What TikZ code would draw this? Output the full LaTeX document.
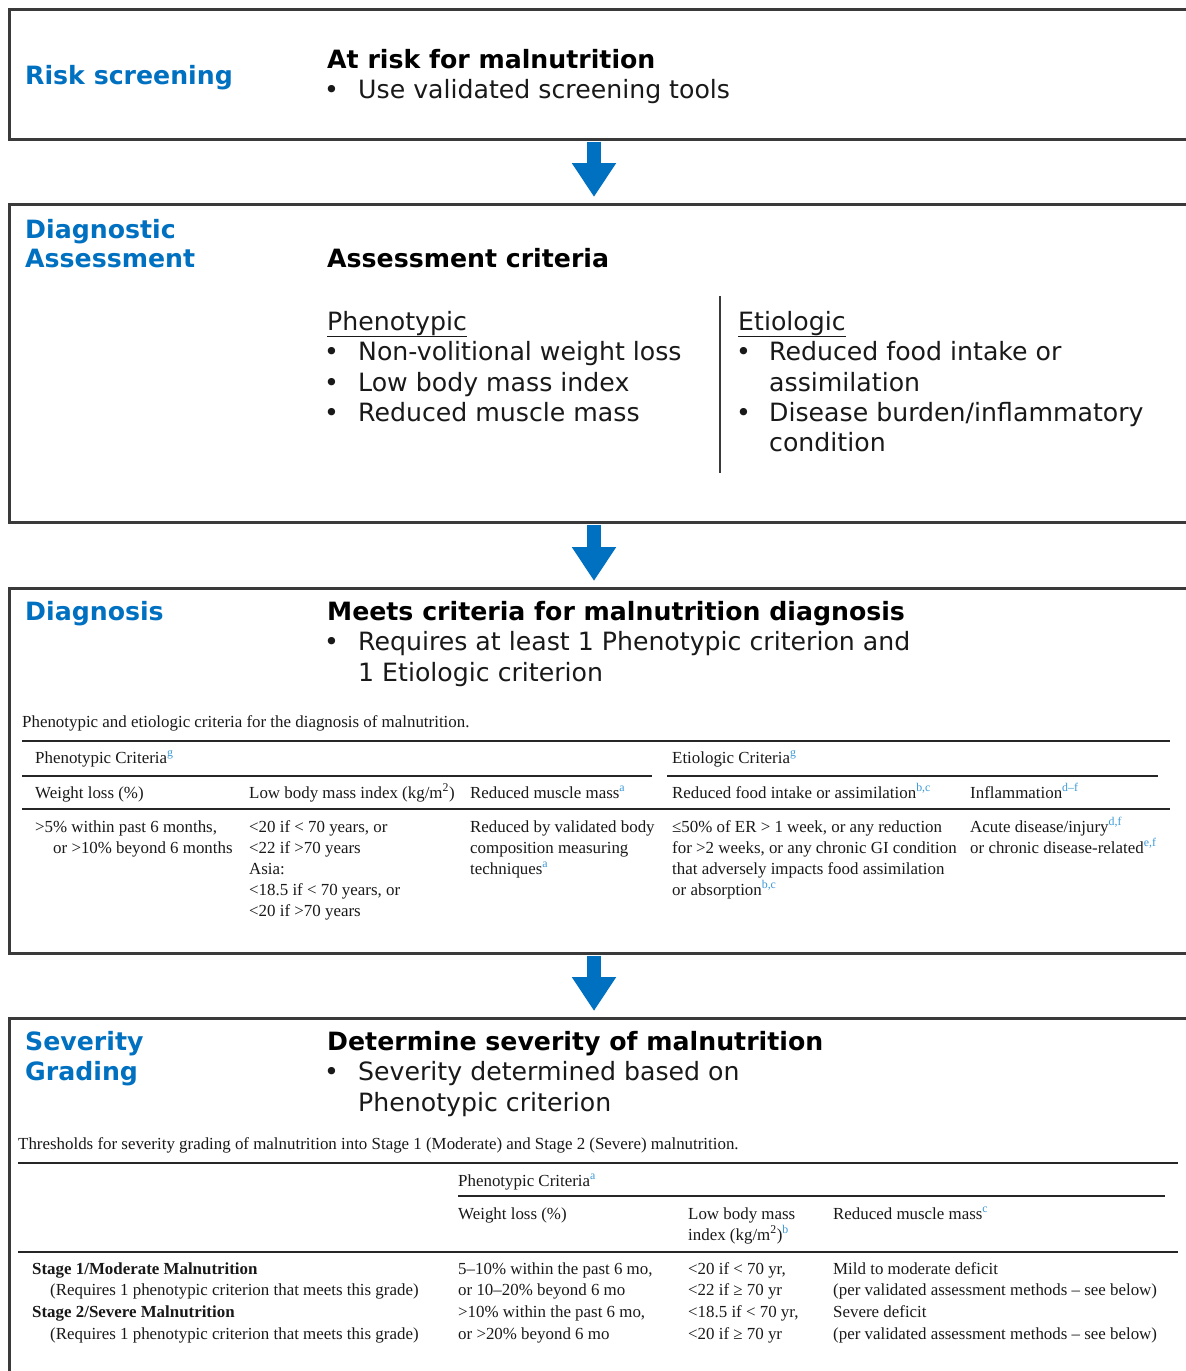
\documentclass[tikz,border=0pt]{standalone}
\usepackage{fontspec}
\setmainfont{DejaVu Sans}
\newfontfamily\tabfont{Liberation Serif}
\usetikzlibrary{arrows.meta}
\definecolor{lblue}{HTML}{0070C0}
\definecolor{supblue}{HTML}{3A9AD9}
\definecolor{framec}{HTML}{3A3A3A}
\newcommand\supb[1]{\textsuperscript{\color{supblue}#1}}
\begin{document}
\begin{tikzpicture}[x=1pt,y=-1pt,
  boxframe/.style={draw=framec, line width=2.5pt, rectangle, inner sep=0pt, anchor=north west},
  big/.style={anchor=base west, inner sep=0pt, font=\fontsize{25.2}{30}\selectfont, text=black!90},
  bigb/.style={anchor=base west, inner sep=0pt, font=\fontsize{25.2}{30}\selectfont\bfseries, text=black},
  lab/.style={anchor=base west, inner sep=0pt, font=\fontsize{25.2}{30}\selectfont\bfseries, text=lblue},
  tab/.style={anchor=base west, inner sep=0pt, font=\tabfont\fontsize{16.9}{21}\selectfont, text=black!90},
  tabb/.style={tab, font=\tabfont\fontsize{16.9}{21}\selectfont\bfseries},
  rulethin/.style={line width=2pt, black!85},
  rulethick/.style={line width=2.6pt, black!85},
  flow/.style={draw=lblue, line width=14pt, -{Triangle[width=42pt,length=34pt]}, shorten >=6pt, shorten <=1.2pt}
]
\useasboundingbox (0,0) rectangle (1186,1371);
\fill[white] (0,0) rectangle (1186,1371);
\clip (0,0) rectangle (1186,1371);

% boxes
\node[boxframe, minimum width=1195pt, minimum height=130pt] (b1) at (8,8) {};
\node[boxframe, minimum width=1195pt, minimum height=318pt] (b2) at (8,203) {};
\node[boxframe, minimum width=1195pt, minimum height=365pt] (b3) at (8,587) {};
\node[boxframe, minimum width=1195pt, minimum height=385pt] (b4) at (8,1017) {};

% arrows
\coordinate (ax) at (594,0);
\draw[flow] (b1.south -| ax) -- (b2.north -| ax);
\draw[flow] (b2.south -| ax) -- (b3.north -| ax);
\draw[flow] (b3.south -| ax) -- (b4.north -| ax);

% ---- box 1
\node[lab] (l1) at (25,84) {Risk screening};
\node[bigb] (h1) at (327,68) {At risk for malnutrition};
\node[big] (h1d) at (324,98) {•};
\node[big] (h1t) at (358,98) {Use validated screening tools};

% ---- box 2
\node[lab] (l2a) at (25,238) {Diagnostic};
\node[lab] (l2b) at (25,267) {Assessment};
\node[bigb] (h2) at (327,267) {Assessment criteria};
\node[big] (ph) at (327,330) {\underline{Phenotypic}};
\node[big] (p1d) at (324,360) {•};
\node[big] (p1) at (358,360) {Non-volitional weight loss};
\node[big] (p2d) at (324,391) {•};
\node[big] (p2) at (358,391) {Low body mass index};
\node[big] (p3d) at (324,421) {•};
\node[big] (p3) at (358,421) {Reduced muscle mass};
\node[big] (eh) at (738,330) {\underline{Etiologic}};
\node[big] (e1d) at (736,360) {•};
\node[big] (e1) at (769,360) {Reduced food intake or};
\node[big] (e1b) at (769,391) {assimilation};
\node[big] (e2d) at (736,421) {•};
\node[big] (e2) at (769,421) {Disease burden/inflammatory};
\node[big] (e2b) at (769,451) {condition};
\draw[line width=1.5pt, framec] (720,296) -- (720,473);

% ---- box 3
\node[lab] (l3) at (25,620) {Diagnosis};
\node[bigb] (h3) at (327,620) {Meets criteria for malnutrition diagnosis};
\node[big] (h3d) at (324,650) {•};
\node[big] (h3t) at (358,650) {Requires at least 1 Phenotypic criterion and};
\node[big] (h3u) at (358,681) {1 Etiologic criterion};

\node[tab] (c3) at (22,727) {Phenotypic and etiologic criteria for the diagnosis of malnutrition.};
\draw[rulethin] (22,741) -- (1170,741);
\node[tab] (g1) at (35,763) {Phenotypic Criteria\supb{g}};
\node[tab] (g2) at (672,763) {Etiologic Criteria\supb{g}};
\draw[rulethin] (22,776) -- (652,776);
\draw[rulethin] (667,776) -- (1158,776);
\node[tab] (k1) at (35,798) {Weight loss (\%)};
\node[tab] (k2) at (249,798) {Low body mass index (kg/m\textsuperscript{2})};
\node[tab] (k3) at (470,798) {Reduced muscle mass\supb{a}};
\node[tab] (k4) at (672,798) {Reduced food intake or assimilation\supb{b,c}};
\node[tab] (k5) at (970,798) {Inflammation\supb{d\textendash f}};
\draw[rulethick] (22,809) -- (1170,809);

\node[tab] (r11) at (35,832) {>5\% within past 6 months,};
\node[tab] (r12) at (53,853) {or >10\% beyond 6 months};
\node[tab] (r21) at (249,832) {<20 if < 70 years, or};
\node[tab] (r22) at (249,853) {<22 if >70 years};
\node[tab] (r23) at (249,874) {Asia:};
\node[tab] (r24) at (249,895) {<18.5 if < 70 years, or};
\node[tab] (r25) at (249,916) {<20 if >70 years};
\node[tab] (r31) at (470,832) {Reduced by validated body};
\node[tab] (r32) at (470,853) {composition measuring};
\node[tab] (r33) at (470,874) {techniques\supb{a}};
\node[tab] (r41) at (672,832) {≤50\% of ER > 1 week, or any reduction};
\node[tab] (r42) at (672,853) {for >2 weeks, or any chronic GI condition};
\node[tab] (r43) at (672,874) {that adversely impacts food assimilation};
\node[tab] (r44) at (672,895) {or absorption\supb{b,c}};
\node[tab] (r51) at (970,832) {Acute disease/injury\supb{d,f}};
\node[tab] (r52) at (970,853) {or chronic disease-related\supb{e,f}};

% ---- box 4
\node[lab] (l4a) at (25,1050) {Severity};
\node[lab] (l4b) at (25,1080) {Grading};
\node[bigb] (h4) at (327,1050) {Determine severity of malnutrition};
\node[big] (h4d) at (324,1080) {•};
\node[big] (h4t) at (358,1080) {Severity determined based on};
\node[big] (h4u) at (358,1111) {Phenotypic criterion};

\node[tab] (c4) at (18,1149) {Thresholds for severity grading of malnutrition into Stage 1 (Moderate) and Stage 2 (Severe) malnutrition.};
\draw[rulethin] (18,1163) -- (1178,1163);
\node[tab] (s0) at (458,1186) {Phenotypic Criteria\supb{a}};
\draw[rulethin] (458,1196) -- (1165,1196);
\node[tab] (sk2) at (458,1219) {Weight loss (\%)};
\node[tab] (sk3) at (688,1219) {Low body mass};
\node[tab] (sk3b) at (688,1240) {index (kg/m\textsuperscript{2})\supb{b}};
\node[tab] (sk4) at (833,1219) {Reduced muscle mass\supb{c}};
\draw[rulethick] (18,1252) -- (1178,1252);

\node[tabb] (s11) at (32,1274) {Stage 1/Moderate Malnutrition};
\node[tab] (s12) at (50,1295) {(Requires 1 phenotypic criterion that meets this grade)};
\node[tabb] (s13) at (32,1317) {Stage 2/Severe Malnutrition};
\node[tab] (s14) at (50,1339) {(Requires 1 phenotypic criterion that meets this grade)};
\node[tab] (s21) at (458,1274) {5–10\% within the past 6 mo,};
\node[tab] (s22) at (458,1295) {or 10–20\% beyond 6 mo};
\node[tab] (s23) at (458,1317) {>10\% within the past 6 mo,};
\node[tab] (s24) at (458,1339) {or >20\% beyond 6 mo};
\node[tab] (s31) at (688,1274) {<20 if < 70 yr,};
\node[tab] (s32) at (688,1295) {<22 if ≥ 70 yr};
\node[tab] (s33) at (688,1317) {<18.5 if < 70 yr,};
\node[tab] (s34) at (688,1339) {<20 if ≥ 70 yr};
\node[tab] (s41) at (833,1274) {Mild to moderate deficit};
\node[tab] (s42) at (833,1295) {(per validated assessment methods – see below)};
\node[tab] (s43) at (833,1317) {Severe deficit};
\node[tab] (s44) at (833,1339) {(per validated assessment methods – see below)};
\end{tikzpicture}
\end{document}
